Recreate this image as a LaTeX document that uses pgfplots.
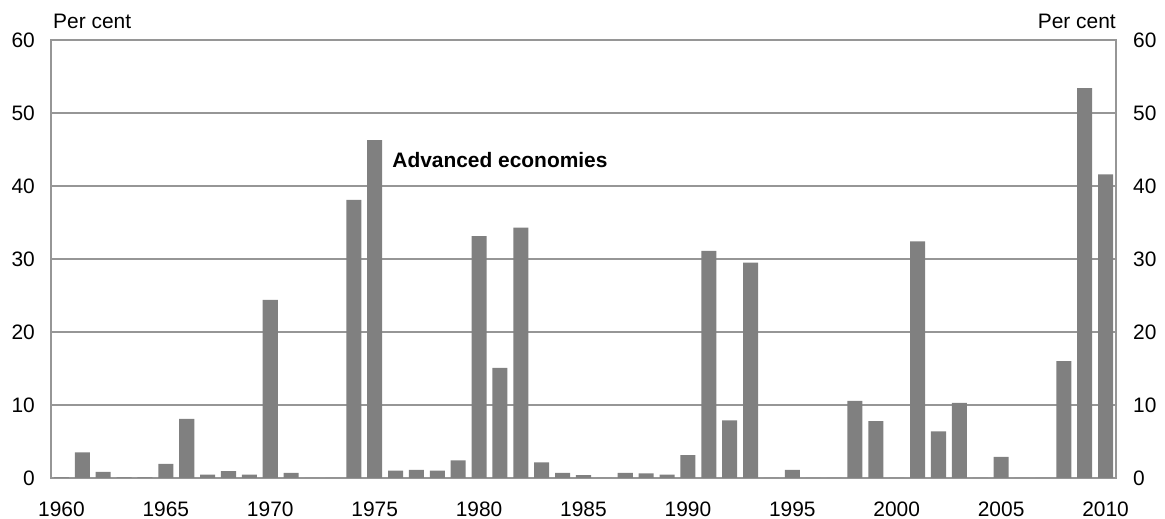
\documentclass[border=0pt]{standalone}
\usepackage{fontspec}
\setmainfont{Liberation Sans}
\usepackage{pgfplots}
\pgfplotsset{compat=1.18}
\definecolor{barg}{RGB}{128,128,128}
\definecolor{gridg}{RGB}{150,150,150}
\newcommand{\cf}{\fontsize{21}{25}\selectfont}
\begin{document}
\begin{tikzpicture}
\path[use as bounding box] (0,0) rectangle (1165bp,519bp);
\pgfplotsset{
  common/.style={
    at={(51bp,41bp)}, anchor=south west,
    scale only axis, width=1065bp, height=438bp,
    xmin=1959.5, xmax=2010.5, ymin=0, ymax=60,
    ytick={0,10,...,60},
    axis line style={gridg, line width=1.5bp},
    ytick style={draw=none},
    tick label style={font=\cf, inner sep=0pt},
    /pgf/number format/assume math mode=true,
    yticklabel shift=16bp,
  }
}
\begin{axis}[common, name=main, clip=false,
  ymajorgrids, grid style={gridg, line width=1.5bp},
  xtick={1960,1965,...,2010},
  xticklabel style={/pgf/number format/1000 sep={}},
  xticklabel shift=19bp,
  xtick pos=bottom, ytick pos=left,
  major x tick style={draw=none},
  extra x ticks={1959.5,1964.5,1969.5,1974.5,1979.5,1984.5,1989.5,1994.5,1999.5,2004.5,2009.5},
  extra x tick labels={},
  extra x tick style={grid=none, major tick length=7bp, tick align=inside, tick style={gridg, line width=1.5bp}},
  ybar, bar width=0.72,
]
\addplot[fill=barg, draw=none] coordinates {
(1960,0.1) (1961,3.5) (1962,0.85) (1963,0.1) (1964,0.1)
(1965,1.95) (1966,8.1) (1967,0.45) (1968,0.95) (1969,0.45)
(1970,24.4) (1971,0.7) (1972,0) (1973,0) (1974,38.1)
(1975,46.3) (1976,1.0) (1977,1.1) (1978,1.0) (1979,2.4)
(1980,33.15) (1981,15.1) (1982,34.3) (1983,2.15) (1984,0.7)
(1985,0.4) (1986,0) (1987,0.7) (1988,0.65) (1989,0.45)
(1990,3.15) (1991,31.1) (1992,7.9) (1993,29.5) (1994,0)
(1995,1.1) (1996,0) (1997,0) (1998,10.55) (1999,7.8)
(2000,0) (2001,32.4) (2002,6.4) (2003,10.3) (2004,0)
(2005,2.9) (2006,0) (2007,0) (2008,16.0) (2009,53.4)
(2010,41.6)
};
\node[anchor=west, font=\cf\bfseries, inner sep=0pt] at (axis cs:1975.84,43.6) {Advanced economies};
\end{axis}
\begin{axis}[common,
  hide x axis, axis y line*=right,
  yticklabel shift=17bp,
  yticklabel style={anchor=west},
]
\addplot[draw=none] coordinates {(1960,0)};
\end{axis}
\node[anchor=south west, font=\cf, inner sep=0pt] at ([xshift=2bp,yshift=11bp]main.north west) {Per cent};
\node[anchor=south east, font=\cf, inner sep=0pt] at ([yshift=11bp]main.north east) {Per cent};
\end{tikzpicture}
\end{document}
